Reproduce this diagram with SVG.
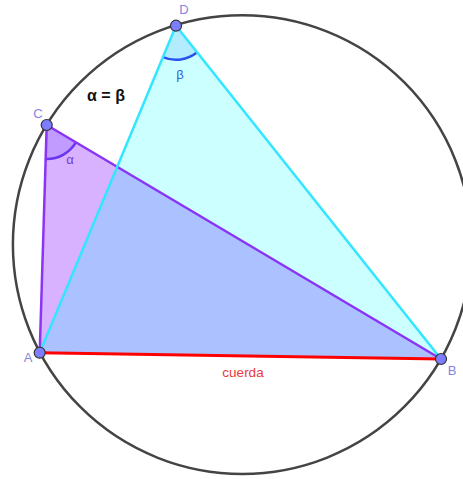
<svg xmlns="http://www.w3.org/2000/svg" width="463" height="479" viewBox="0 0 463 479">
<style>
.lbl{font-family:"Liberation Sans",Arial,sans-serif;font-size:13px;fill:#8585e0}
.pt{fill:#7d7dff;stroke:#333;stroke-width:1.2}
</style>
<rect width="463" height="479" fill="#fff"/>
<g id="circle">
<circle cx="242.2" cy="244.6" r="229.3" fill="none" stroke="#444" stroke-width="2.5"/>
</g>
<g id="triangle-ABC">
<polygon points="39.7,352.7 441,359 46.7,125" fill="#7f00ff" fill-opacity="0.3" stroke="none"/>
</g>
<g id="triangle-ABD">
<polygon points="39.7,352.7 441,359 176,25.7" fill="#00ffff" fill-opacity="0.2" stroke="none"/>
</g>
<g id="angle-alpha">
<path d="M46.7,125 L45.7,159 A34,34 0 0 0 75.9,142.4 Z" fill="#5a30ff" fill-opacity="0.18" stroke="none"/>
<path d="M45.7,159 A34,34 0 0 0 75.9,142.4" fill="none" stroke="#6a35f0" stroke-width="2.5"/>
<text x="70" y="164" text-anchor="middle" font-family="Liberation Sans,Arial,sans-serif" font-size="13" fill="#7040d8">α</text>
</g>
<g id="angle-beta">
<path d="M176,25.7 L162.9,57.1 A34,34 0 0 0 197.2,52.3 Z" fill="#0066ff" fill-opacity="0.12" stroke="none"/>
<path d="M162.9,57.1 A34,34 0 0 0 197.2,52.3" fill="none" stroke="#2a50f0" stroke-width="2.5"/>
<text x="180" y="79" text-anchor="middle" font-family="Liberation Sans,Arial,sans-serif" font-size="13" fill="#3060e0">β</text>
</g>
<g id="connectors">
<line x1="39.7" y1="352.7" x2="46.7" y2="125" stroke="#8a35f5" stroke-width="2.5"/>
<line x1="46.7" y1="125" x2="441" y2="359" stroke="#8a35f5" stroke-width="2.5"/>
<line x1="39.7" y1="352.7" x2="176" y2="25.7" stroke="#33e6ff" stroke-width="2.5"/>
<line x1="176" y1="25.7" x2="441" y2="359" stroke="#33e6ff" stroke-width="2.5"/>
<line x1="39.7" y1="352.7" x2="441" y2="359" stroke="#ff0000" stroke-width="3"/>
</g>
<g id="chord-label">
<text x="243" y="377" text-anchor="middle" font-family="Liberation Sans,Arial,sans-serif" font-size="13.5" fill="#e83a3a">cuerda</text>
</g>
<g id="title">
<text x="106" y="101" text-anchor="middle" font-family="Liberation Sans,Arial,sans-serif" font-size="16" font-weight="bold" fill="#111">α = β</text>
</g>
<g id="node-A">
<circle class="pt" cx="39.7" cy="352.7" r="5.5"/>
<text class="lbl" x="28" y="362" text-anchor="middle">A</text>
</g>
<g id="node-B">
<circle class="pt" cx="441" cy="359" r="5.5"/>
<text class="lbl" x="452" y="375" text-anchor="middle">B</text>
</g>
<g id="node-C">
<circle class="pt" cx="46.7" cy="125" r="5.5"/>
<text class="lbl" x="38" y="118" text-anchor="middle">C</text>
</g>
<g id="node-D">
<circle class="pt" cx="176" cy="25.7" r="5.5"/>
<text class="lbl" x="184" y="14" text-anchor="middle">D</text>
</g>
</svg>
